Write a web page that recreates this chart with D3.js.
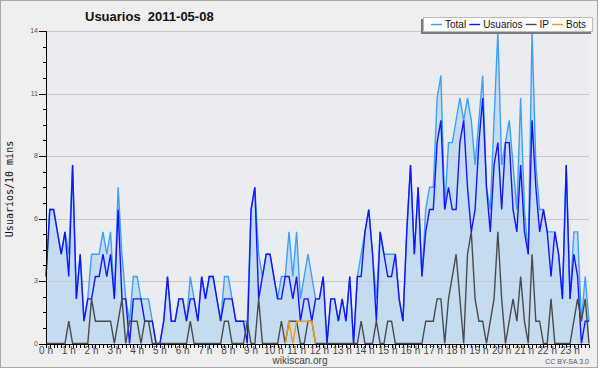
<!DOCTYPE html>
<html>
<head>
<meta charset="utf-8">
<script src="https://cdn.jsdelivr.net/npm/d3@7"></script>
<style>
  body { margin: 0; background: #fff; }
  svg { display: block; }
</style>
</head>
<body>
<svg id="chart" width="600" height="370"></svg>
<script>
// values every 10 minutes, 2011-05-08
var total = [3,6,6,5,4,5,4,8,2,4, 1,2,4,4,4,5,4,5,2,7, 4,2,1,3,3,2,2,2,1,0,
             0,1,3,1,1,2,2,1,3,2, 1,3,2,3,3,2,1,3,3,2, 1,1,1,1,6,7,4,3,4,4,
             3,2,3,3,5,3,5,2,3,4, 3,2,2,3,0,2,2,1,2,1, 3,0,3,4,5,6,4,2,5,4,
             4,4,4,2,1,5,8,4,7,3, 6,7,7,11,12,6,9,9,10,11, 10,11,10,8,10,12,7,6,10,14,
             8,9,10,8,6,11,6,4,14,8, 6,6,5,5,5,4,2,8,2,5, 5,1,3,1];
var usuarios = [3,6,6,5,4,5,3,8,2,4, 1,2,2,3,3,4,3,4,2,6, 2,2,0,2,2,2,1,1,1,0,
             0,1,3,1,1,2,2,1,2,2, 1,3,2,3,3,2,1,2,2,2, 1,1,1,0,6,7,2,3,4,4,
             3,2,2,3,3,2,3,1,2,2, 1,2,2,3,0,2,2,1,2,1, 3,0,3,3,5,6,4,1,5,4,
             3,3,4,2,1,5,8,4,7,3, 5,6,6,9,10,6,7,6,6,9, 10,7,5,6,9,11,7,5,8,9,
             6,9,9,6,5,8,5,4,10,7, 5,6,5,3,5,4,2,8,2,4, 3,0,1,1];
var ip = [0,0,0,0,0,0,1,0,0,0, 0,0,2,1,1,1,1,1,0,1, 2,0,1,1,1,0,1,1,0,0,
          0,0,0,0,0,0,0,0,1,0, 0,0,0,0,0,0,0,1,1,0, 0,0,0,1,0,0,2,0,0,0,
          0,0,1,0,1,1,1,0,0,1, 1,0,0,0,0,0,0,0,0,0, 0,0,0,1,0,0,0,1,0,0,
          1,1,0,0,0,0,0,0,0,0, 1,1,1,2,2,0,2,3,4,2, 0,4,5,2,1,1,0,1,2,5,
          2,0,1,2,1,3,1,0,4,1, 1,0,0,2,0,0,0,0,0,1, 2,1,2,0];
var bots = [0,0,0,0,0,0,0,0,0,0, 0,0,0,0,0,0,0,0,0,0, 0,0,0,0,0,0,0,0,0,0,
            0,0,0,0,0,0,0,0,0,0, 0,0,0,0,0,0,0,0,0,0, 0,0,0,0,0,0,0,0,0,0,
            0,0,0,0,1,0,1,1,1,1, 1,0,0,0,0,0,0,0,0,0, 0,0,0,0,0,0,0,0,0,0,
            0,0,0,0,0,0,0,0,0,0, 0,0,0,0,0,0,0,0,0,0, 0,0,0,0,0,0,0,0,0,0,
            0,0,0,0,0,0,0,0,0,0, 0,0,0,0,0,0,0,0,0,0, 0,0,0,0];

var hourLabels = ["0 h","1 h","2 h","3 h","4 h","5 h","6 h","7 h","8 h","9 h","10 h","11 h",
                  "12 h","13 h","14 h","15 h","16 h","17 h","18 h","19 h","20 h","21 h","22 h","23 h"];
var yMax = 14;
var yTickLabels = ["0","3","6","8","11","14"];
var seriesNames = ["Total","Usuarios","IP","Bots"];
var seriesColors = ["#3d9ff5","#1414ff","#4a4a4a","#f39a1a"];

var svg = d3.select("#chart");
var W = 600, H = 370;

// page background + frame
svg.append("rect").attr("x", 0).attr("y", 0).attr("width", W).attr("height", H).attr("fill", "#fff");
svg.append("rect").attr("x", 0.5).attr("y", 0.5).attr("width", 597).attr("height", 367)
    .attr("fill", "#efefef").attr("stroke", "#a8a8a8");

var x = d3.scaleLinear().domain([0, total.length - 1]).range([46, 589]);
var y = d3.scaleLinear().domain([0, yMax]).range([343.5, 31]);

// plot background
svg.append("rect").attr("x", x(0)).attr("y", y(yMax))
    .attr("width", x(total.length - 1) - x(0)).attr("height", y(0) - y(yMax))
    .attr("fill", "#ebecef");

// filled total area
var area = d3.area().x(function(d, i) { return x(i); }).y0(y(0)).y1(function(d) { return y(d); });
svg.append("path").datum(total).attr("d", area).attr("fill", "#c5dcf0");

// major grid
var majorTicks = yTickLabels.map(function(l, k) { return yMax * k / (yTickLabels.length - 1); });
svg.append("g").selectAll("line").data(majorTicks.slice(1)).enter().append("line")
    .attr("x1", x(0)).attr("x2", x(total.length - 1))
    .attr("y1", function(d) { return Math.round(y(d)) + 0.5; })
    .attr("y2", function(d) { return Math.round(y(d)) + 0.5; })
    .attr("stroke", "#c8c8c8").attr("stroke-width", 1);

// series lines
var line = d3.line().x(function(d, i) { return x(i); }).y(function(d) { return y(d); });
[total, usuarios, ip, bots].forEach(function(s, k) {
    if (k == 3) {
        // only draw bots where they are non zero (plus neighbours)
        var defined = s.map(function(v, i) { return v > 0 || s[i - 1] > 0 || s[i + 1] > 0; });
        svg.append("path").datum(s)
            .attr("d", d3.line().defined(function(d, i) { return defined[i]; })
                .x(function(d, i) { return x(i); }).y(function(d) { return y(d); }))
            .attr("fill", "none").attr("stroke", seriesColors[k]).attr("stroke-width", 1.4);
        return;
    }
    svg.append("path").datum(s).attr("d", line)
        .attr("fill", "none").attr("stroke", seriesColors[k]).attr("stroke-width", 1.4)
        .attr("stroke-linejoin", "miter");
});

// y axis
var yAxis = svg.append("g");
yAxis.append("line").attr("x1", 46.5).attr("x2", 46.5).attr("y1", y(yMax)).attr("y2", y(0))
    .attr("stroke", "#000");
var minorY = d3.range(0, 21).map(function(k) { return yMax * k / 20; });
yAxis.selectAll(".ymin").data(minorY).enter().append("line")
    .attr("x1", 43).attr("x2", 46.5)
    .attr("y1", function(d) { return Math.round(y(d)) + 0.5; })
    .attr("y2", function(d) { return Math.round(y(d)) + 0.5; })
    .attr("stroke", "#000");
yAxis.selectAll(".ymaj").data(majorTicks).enter().append("line")
    .attr("x1", 39).attr("x2", 46.5)
    .attr("y1", function(d) { return Math.round(y(d)) + 0.5; })
    .attr("y2", function(d) { return Math.round(y(d)) + 0.5; })
    .attr("stroke", "#000");
yAxis.selectAll("text").data(majorTicks).enter().append("text")
    .attr("x", 38).attr("y", function(d) { return y(d) + 2; })
    .attr("text-anchor", "end")
    .style("font", "7px 'Liberation Sans', sans-serif").attr("fill", "#555")
    .text(function(d, i) { return yTickLabels[i]; });

svg.append("text")
    .attr("transform", "translate(13,189) rotate(-90)")
    .attr("text-anchor", "middle")
    .style("font", "10px 'DejaVu Sans Mono', monospace").attr("fill", "#111")
    .text("Usuarios/10 mins");

// x axis
var xAxis = svg.append("g");
xAxis.append("line").attr("x1", x(0)).attr("x2", x(total.length - 1)).attr("y1", 344.5).attr("y2", 344.5)
    .attr("stroke", "#000");
xAxis.selectAll(".xt").data(d3.range(total.length)).enter().append("line")
    .attr("x1", function(i) { return Math.round(x(i)) + 0.5; })
    .attr("x2", function(i) { return Math.round(x(i)) + 0.5; })
    .attr("y1", 344.5).attr("y2", 348)
    .attr("stroke", "#000");
xAxis.selectAll("text").data(hourLabels).enter().append("text")
    .attr("x", function(d, h) { return x(h * 6); }).attr("y", 354)
    .attr("text-anchor", "middle")
    .style("font", "10px 'Liberation Sans', sans-serif").attr("fill", "#444")
    .text(function(d) { return d; });

// title and footers
svg.append("text").attr("x", 85).attr("y", 21)
    .style("font", "bold 13px 'Liberation Sans', sans-serif").attr("fill", "#111")
    .attr("xml:space", "preserve")
    .text("Usuarios  2011-05-08");
svg.append("text").attr("x", 300).attr("y", 364).attr("text-anchor", "middle")
    .style("font", "10px 'Liberation Sans', sans-serif").attr("fill", "#444")
    .text("wikiscan.org");
svg.append("text").attr("x", 589).attr("y", 364).attr("text-anchor", "end")
    .style("font", "7px 'Liberation Sans', sans-serif").attr("fill", "#555")
    .text("CC BY-SA 3.0");

// legend
var lg = svg.append("g");
lg.append("rect").attr("x", 421).attr("y", 19).attr("width", 170).attr("height", 15).attr("fill", "#7a7a7a");
lg.append("rect").attr("x", 423.5).attr("y", 17.5).attr("width", 169).attr("height", 14)
    .attr("fill", "#fff").attr("stroke", "#bbb");
var lx = 431;
seriesNames.forEach(function(name, k) {
    lg.append("line").attr("x1", lx).attr("x2", lx + 11).attr("y1", 24.5).attr("y2", 24.5)
        .attr("stroke", seriesColors[k]).attr("stroke-width", 1.4);
    var t = lg.append("text").attr("x", lx + 14).attr("y", 28)
        .style("font", "10px 'Liberation Sans', sans-serif").attr("fill", "#111")
        .text(name);
    lx = lx + 14 + t.node().getComputedTextLength() + 3;
});
</script>
</body>
</html>
